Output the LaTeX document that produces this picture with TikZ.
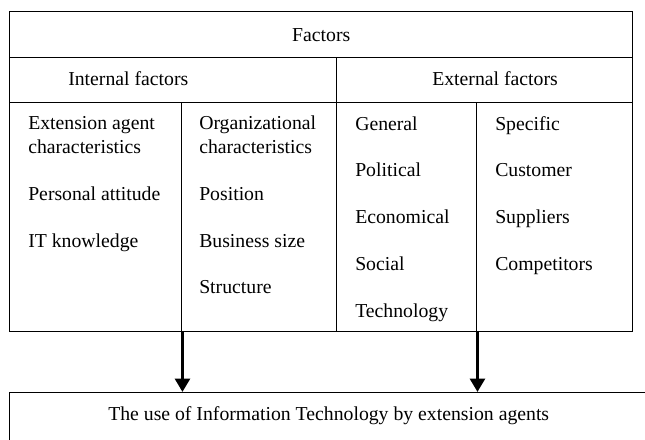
\documentclass[tikz,border=0pt]{standalone}
\usepackage{fontspec}
\setmainfont{Liberation Serif}
\usetikzlibrary{arrows.meta,positioning}

\tikzset{
  cell/.style={draw,line width=1.1pt,inner sep=0pt,anchor=north west},
  item/.style={anchor=base west,inner sep=0pt},
  flow/.style={line width=2.6pt,-{Triangle[length=10pt,width=11pt]}}
}

\begin{document}
\begin{tikzpicture}[x=0.75pt,y=-0.75pt,font=\fontsize{14.8}{17.3}\selectfont]
  \clip (0,0) rectangle (645,439);
  \useasboundingbox (0,0) rectangle (645,439);

  % table
  \node[cell,minimum width=467.25pt,minimum height=34.5pt] (factors) at (9,11) {Factors};
  \node[cell,minimum width=245.25pt,minimum height=33.75pt] (inthead) at (9,57) {};
  \node[cell,minimum width=222pt,minimum height=33.75pt] (exthead) at (336,57) {};
  \node[cell,minimum width=129pt,minimum height=171.75pt] (intA) at (9,102) {};
  \node[cell,minimum width=116.25pt,minimum height=171.75pt] (intB) at (181,102) {};
  \node[cell,minimum width=105pt,minimum height=171.75pt] (extA) at (336,102) {};
  \node[cell,minimum width=117pt,minimum height=171.75pt] (extB) at (476,102) {};

  \node[item] (intlbl) at (68,85) {Internal factors};
  \node[item] (extlbl) at (432,85) {External factors};

  % items (two-line nodes sit on their last line)
  \node[item,align=left] (agent) at (28,153) {Extension agent\\characteristics};
  \node[item] (attitude) at (28,200) {Personal attitude};
  \node[item] (know) at (28,247) {IT knowledge};

  \node[item,align=left] (org) at (199,153) {Organizational\\characteristics};
  \node[item] (pos) at (199,200) {Position};
  \node[item] (size) at (199,247) {Business size};
  \node[item] (struct) at (199,293) {Structure};

  \foreach \t [count=\i from 0] in {General,Political,Economical,Social,Technology}
    \node[item] (gen\i) at (355,130+46.8*\i) {\t};
  \foreach \t [count=\i from 0] in {Specific,Customer,Suppliers,Competitors}
    \node[item] (spec\i) at (495,130+46.8*\i) {\t};

  % result
  \node[cell,minimum width=530pt,minimum height=80pt] (use) at (9,392) {};
  \node[item] (uselbl) at (108,420) {The use of Information Technology by extension agents};

  \draw[flow] (intA.south east) -- (intA.south east |- use.north);
  \draw[flow] (extA.south east) -- (extA.south east |- use.north);
\end{tikzpicture}
\end{document}
